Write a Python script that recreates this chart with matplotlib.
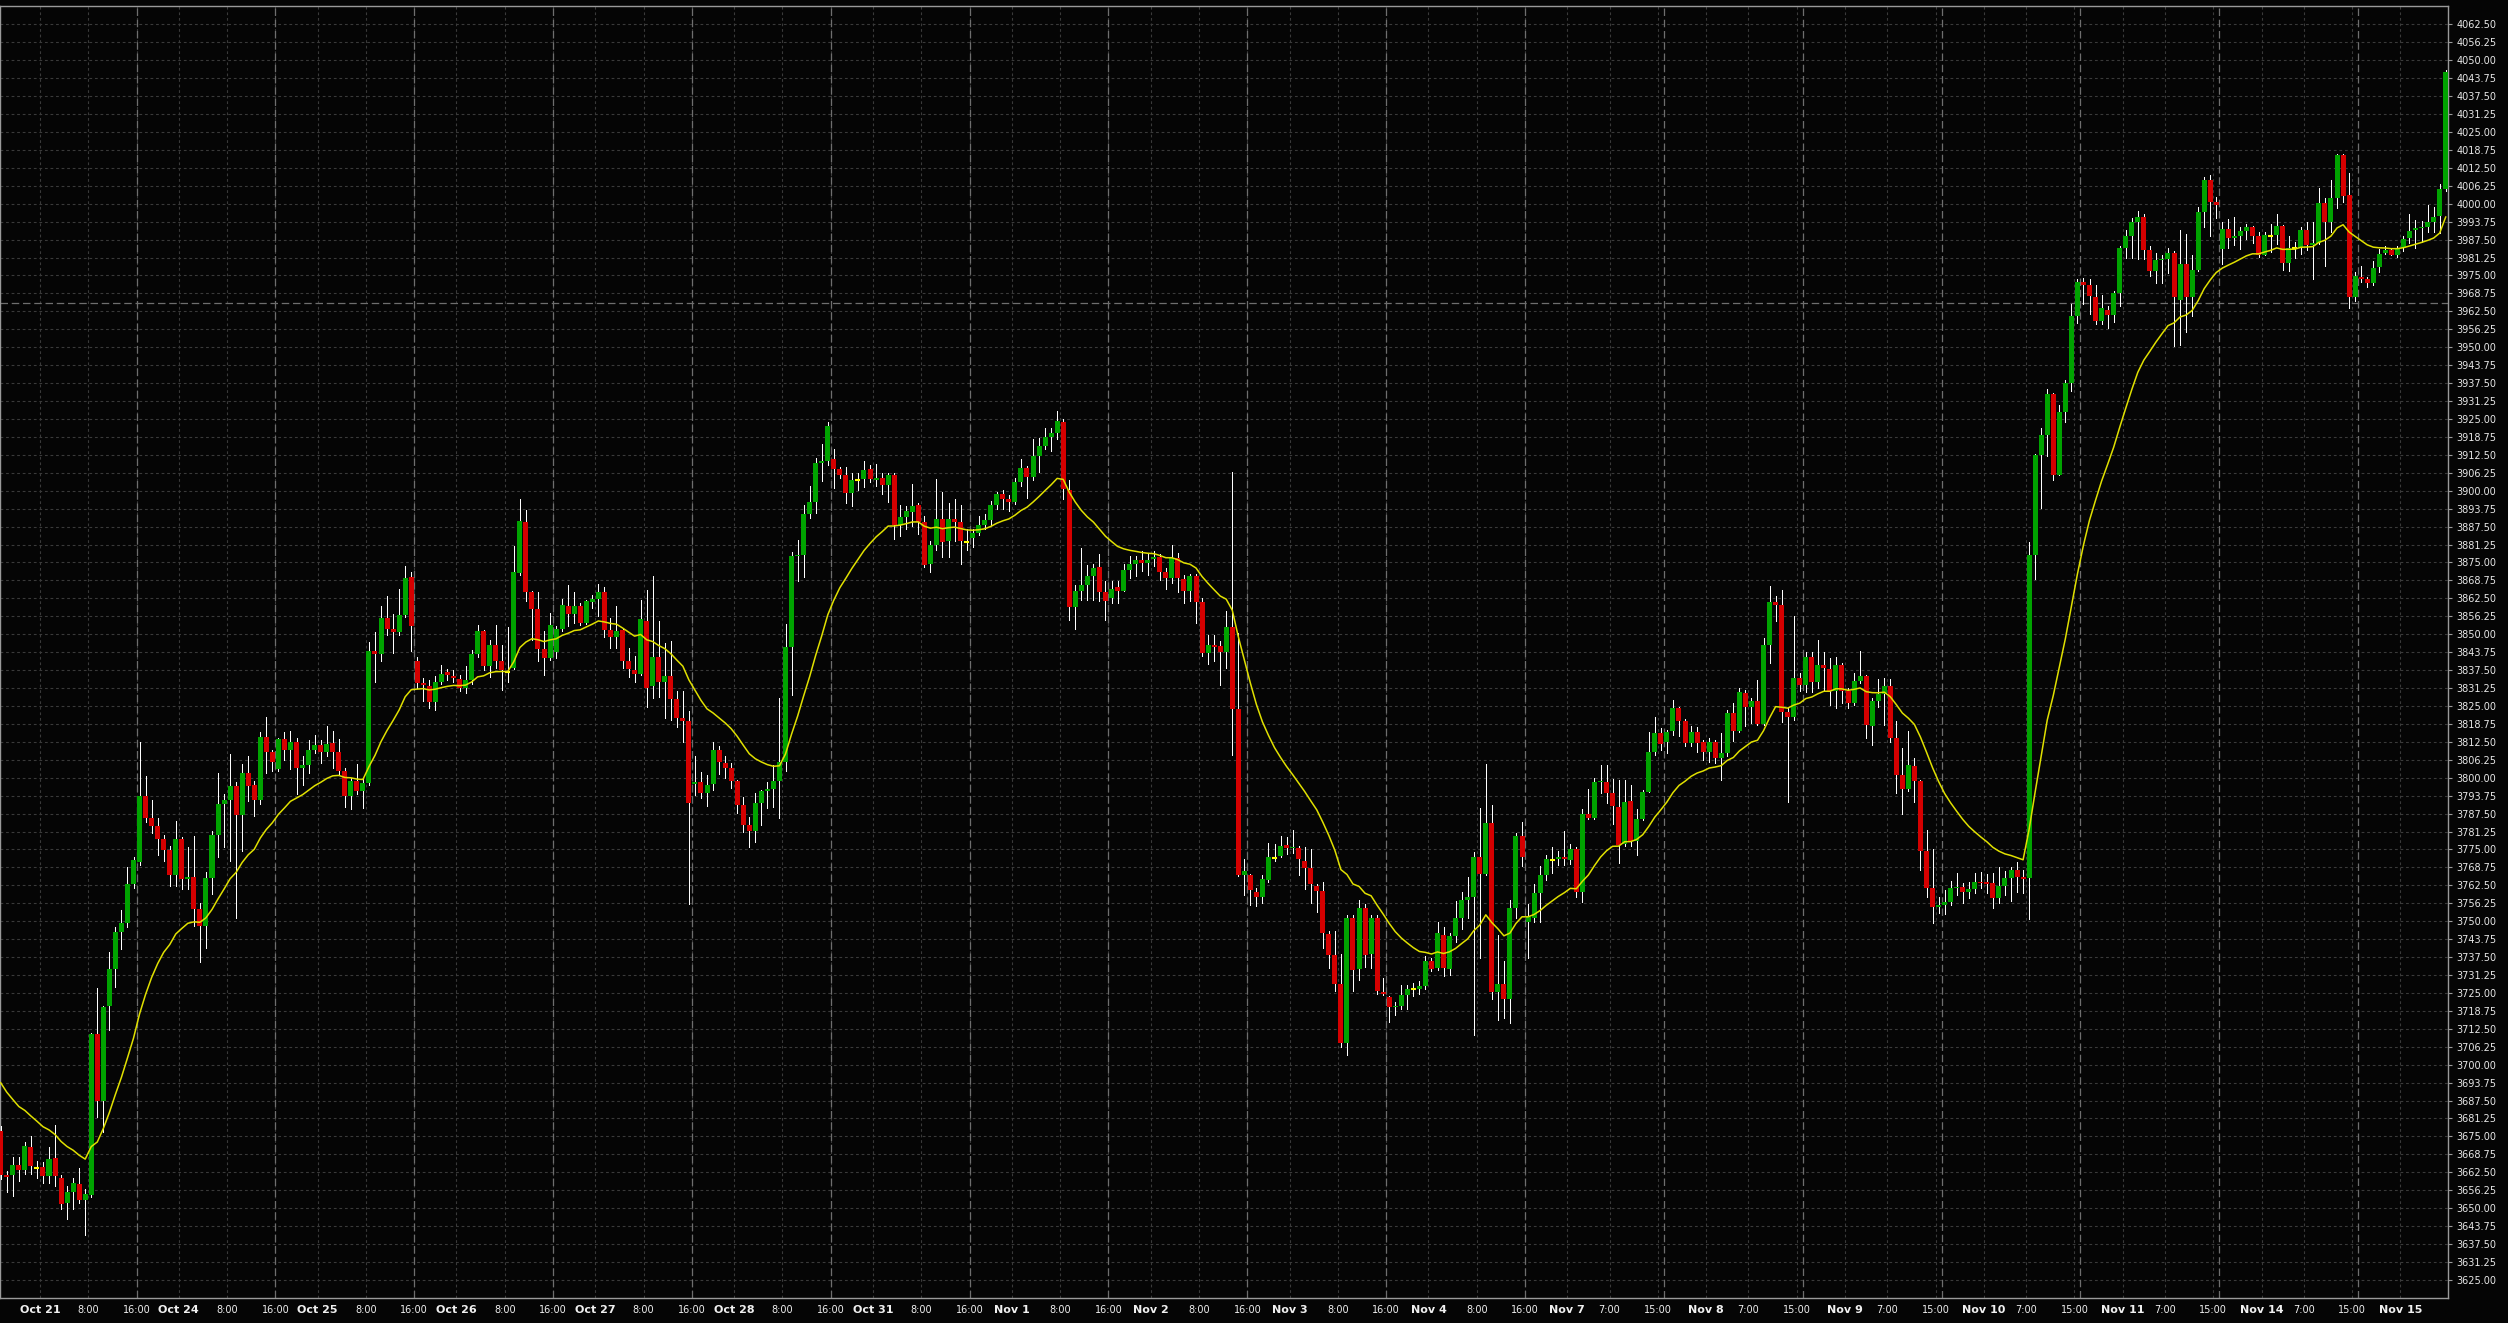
import numpy as np
import pandas as pd
import matplotlib
matplotlib.use("Agg")
import matplotlib.pyplot as plt
from matplotlib.transforms import blended_transform_factory

# hourly bars (bar 0 = Oct 20 16:00)
opens = [
    3677, 3661.5, 3661.5, 3665, 3663.3, 3671.4, 3664, 3664.4, 3661.2, 3667.5,
    3660.4, 3651.9, 3655.5, 3658.4, 3652.7, 3654.7, 3710.7, 3687.5, 3720.4, 3733.5,
    3746.4, 3749.4, 3763, 3770.5, 3793.6, 3785.9, 3783.3, 3778.6, 3774.7, 3766.1,
    3778.8, 3764.6, 3765.5, 3754.2, 3748.4, 3765.1, 3780.2, 3791, 3792.1, 3797.1,
    3787.1, 3801.5, 3797.4, 3792.3, 3814.3, 3809, 3803, 3813.5, 3809.5, 3812.6,
    3803.3, 3804.4, 3809.5, 3811.4, 3809, 3812, 3809, 3802.2, 3793.6, 3798.9,
    3795.5, 3798.1, 3844.2, 3843.1, 3855.8, 3851.7, 3850.9, 3856.6, 3869.8, 3840.5,
    3833, 3832.1, 3826.3, 3833.5, 3836.7, 3835.6, 3834.5, 3831.4, 3833.9, 3843.2,
    3851, 3838.8, 3846.1, 3840.5, 3837, 3838.2, 3871.4, 3889, 3864.6, 3858.8,
    3844.8, 3841.7, 3843.8, 3851.8, 3860, 3857.1, 3859.7, 3853.9, 3861.2, 3862.3,
    3864.6, 3851.3, 3849, 3851.3, 3840.7, 3837.7, 3836.3, 3854.7, 3831.8, 3841.9,
    3833.5, 3835.3, 3827.5, 3820.7, 3819.6, 3797.7, 3798.6, 3794.8, 3797.7, 3809.7,
    3805, 3803.5, 3798.9, 3790.5, 3783.5, 3781.4, 3791.1, 3795.4, 3796.1, 3798.9,
    3805.6, 3845.4, 3877.2, 3877.7, 3891.9, 3896.1, 3909.5, 3910.3, 3910.9, 3907.7,
    3905.4, 3899.3, 3903.8, 3904, 3907.4, 3903.8, 3904.4, 3902, 3905.6, 3888,
    3890.8, 3892.7, 3895, 3889.2, 3874.3, 3881, 3890.3, 3882.4, 3890.1, 3889,
    3882.1, 3883.6, 3885.2, 3887.9, 3889.7, 3895, 3899, 3897.1, 3896.1, 3903.1,
    3907.8, 3904.7, 3912.1, 3915.6, 3918.7, 3920.1, 3924, 3900.1, 3859.5, 3865,
    3867.1, 3870.3, 3873.3, 3864.6, 3862.6, 3866.4, 3865.2, 3872.2, 3874.6, 3876,
    3874.9, 3876.2, 3876.9, 3871.7, 3869.6, 3876.4, 3869.4, 3865, 3870.2, 3861.2,
    3843.5, 3846.1, 3845.8, 3843.8, 3852.5, 3823.8, 3766.2, 3766.2, 3760.3, 3758.6,
    3764.4, 3772, 3772.8, 3776.6, 3775.4, 3775.5, 3771.1, 3768.6, 3762.4, 3760.4,
    3745.5, 3738.2, 3728, 3707.6, 3751, 3733.5, 3754.5, 3738.6, 3751, 3725.5,
    3723.5, 3720, 3720.5, 3724.4, 3726.2, 3726.2, 3727.5, 3736.3, 3733.8, 3745.1,
    3733.5, 3744.8, 3751, 3757.5, 3758.6, 3772.4, 3766.6, 3784.2, 3725.2, 3728,
    3722.8, 3754.5, 3779.6, 3749.7, 3751, 3759.7, 3766.2, 3771.3, 3771.5, 3772.4,
    3771.3, 3775.2, 3760, 3787.3, 3786, 3798.4, 3798.6, 3794.8, 3789.7, 3776.8,
    3792, 3778, 3785.6, 3794.9, 3809.1, 3815.5, 3812.4, 3816.3, 3824.2, 3819.6,
    3812, 3815.8, 3812.3, 3808.8, 3812.6, 3807, 3808.5, 3822.4, 3816.1, 3829.5,
    3824.8, 3826.6, 3818.7, 3846.1, 3861.1, 3860.3, 3822.8, 3821.3, 3834.9, 3832.2,
    3841.9, 3833.2, 3839.1, 3837.9, 3830.1, 3839.4, 3830.3, 3826, 3833.8, 3835.6,
    3818, 3826.6, 3829.1, 3831.8, 3813.8, 3800.8, 3796.1, 3804.2, 3798.9, 3774.5,
    3761.7, 3754.8, 3755.8, 3756.8, 3761.4, 3762, 3760.1, 3761.1, 3763.8, 3763.8,
    3763.2, 3758.2, 3762.4, 3764.9, 3767.8, 3765.5, 3764.9, 3877.5, 3912.4, 3919.3,
    3933.7, 3905.6, 3927.4, 3937.5, 3961, 3972.6, 3971.6, 3967.6, 3959.2, 3963,
    3961.4, 3968.9, 3984.5, 3988.6, 3993.8, 3995.4, 3983.9, 3976.6, 3980.4, 3980.9,
    3982.8, 3966.6, 3978.9, 3967.4, 3977, 3997.2, 4008.1, 4000.7, 3984.1, 3991.3,
    3988, 3988.6, 3990.6, 3992, 3988.9, 3982.2, 3988.9, 3989.1, 3992.3, 3979.5,
    3984.5, 3984.5, 3990.7, 3985.7, 3986.3, 4000.1, 3993.8, 4001.9, 4016.9, 4003.2,
    3967.6, 3974.5, 3973.9, 3972.4, 3977.9, 3982.8, 3983.9, 3982.2, 3984.5, 3987.9,
    3990.7, 3991.6, 3992, 3993.6, 3995.7, 4005.3,
]
highs = [
    3678.5, 3662.8, 3667.7, 3668, 3673, 3675, 3666.5, 3666, 3671.4, 3678.9,
    3661.7, 3657.9, 3660.4, 3663.9, 3656.8, 3711, 3726.6, 3720.4, 3739.1, 3748.1,
    3754, 3768.9, 3772.4, 3812.6, 3800.7, 3792.3, 3785.8, 3780.2, 3776.2, 3785,
    3779.5, 3776, 3779.8, 3756.5, 3767.2, 3781.4, 3801.7, 3794.4, 3808.2, 3798.4,
    3804.9, 3807.4, 3798.9, 3816, 3821.2, 3809.8, 3813.8, 3816, 3816.3, 3813.8,
    3807.4, 3813, 3815, 3813, 3817.9, 3816.3, 3813.5, 3803.3, 3800, 3804.6,
    3800, 3847.2, 3850.7, 3859.8, 3863.4, 3856.9, 3865.8, 3873.8, 3871.6, 3841.9,
    3834.7, 3834.1, 3835.5, 3839.1, 3838, 3837.6, 3835.9, 3838.8, 3844.6, 3853.1,
    3851.6, 3848.1, 3853.3, 3846.3, 3852.4, 3880.6, 3897.2, 3893.4, 3865, 3864.6,
    3851, 3857.4, 3852.8, 3862.4, 3867.3, 3864.6, 3860.9, 3862, 3863.8, 3867.5,
    3866.3, 3855.6, 3859.7, 3852.1, 3845.2, 3842.3, 3862, 3865.5, 3870.2, 3854.5,
    3846.9, 3847.7, 3830.3, 3830.1, 3823.1, 3807.4, 3801.9, 3801, 3812.4, 3810.9,
    3807.4, 3805, 3799.2, 3793.4, 3786.4, 3794.6, 3795.7, 3798.6, 3804.5, 3827.7,
    3853.5, 3878.7, 3883, 3895, 3901.8, 3911.5, 3916.4, 3924, 3914.4, 3908.3,
    3908.2, 3906.3, 3906.3, 3910.3, 3909, 3909.2, 3906.3, 3906.3, 3906.3, 3895,
    3894.6, 3902.4, 3895.8, 3891.1, 3882.4, 3904, 3899.6, 3895.8, 3897, 3895,
    3886.5, 3886.5, 3891.1, 3892, 3896.4, 3899.6, 3900.4, 3898.5, 3904.5, 3910.9,
    3908.6, 3917.9, 3918.5, 3921.7, 3922, 3927.8, 3924.9, 3903.6, 3867.3, 3880.1,
    3874, 3874.3, 3877.8, 3868.4, 3868.4, 3868.7, 3874.3, 3877.2, 3877.2, 3879,
    3878.4, 3879, 3877.8, 3873.1, 3881, 3878.4, 3870.8, 3871, 3871, 3862.6,
    3849.8, 3849.8, 3847.8, 3858, 3906.5, 3850.4, 3771.7, 3766.5, 3761.4, 3766.2,
    3777.3, 3776.9, 3779.6, 3779.3, 3781.8, 3776.3, 3775.9, 3775.2, 3763.1, 3763.5,
    3746.6, 3746.6, 3738.6, 3752, 3752, 3757.5, 3756.1, 3752, 3752, 3730.3,
    3724.1, 3721.7, 3727.9, 3727.6, 3728.3, 3729, 3737.9, 3737.3, 3749.7, 3747.9,
    3745.8, 3757, 3760.3, 3765.5, 3774.1, 3789.3, 3804.9, 3790.4, 3745.1, 3736.3,
    3757.5, 3780.7, 3784.6, 3755.9, 3763, 3769.4, 3773.1, 3775.9, 3774.5, 3781.4,
    3776.8, 3775.9, 3789, 3795.9, 3800, 3804.4, 3804.4, 3799.7, 3799.3, 3799.3,
    3797.3, 3789, 3795.8, 3815.9, 3821.3, 3817.3, 3816.7, 3827.2, 3824.8, 3820.5,
    3817.9, 3817.5, 3813.2, 3813.8, 3813.2, 3815.5, 3823.7, 3826, 3831.2, 3830.4,
    3827.7, 3834.1, 3848.7, 3866.7, 3863.2, 3865.5, 3824.8, 3856.2, 3836.5, 3843.7,
    3843.7, 3848.1, 3843.7, 3841.7, 3841.9, 3839.9, 3831.2, 3836.5, 3844.3, 3835.9,
    3827.7, 3834.5, 3834.7, 3834.5, 3819.8, 3810.3, 3816.3, 3806.8, 3799.2, 3781.8,
    3775.2, 3758.5, 3760.9, 3764, 3766.7, 3763.2, 3763.5, 3766.7, 3767.3, 3766.3,
    3766.7, 3769, 3767.5, 3769, 3770.7, 3767.8, 3882, 3912.8, 3921.8, 3935.5,
    3934, 3930, 3938.7, 3965.2, 3973.9, 3974.1, 3973.6, 3971.6, 3968.3, 3964.5,
    3969.5, 3985.1, 3990.7, 3995.1, 3997.3, 3996.3, 3985.1, 3982.9, 3982, 3984.5,
    3983.6, 3991, 3989.5, 3982, 3999, 4009.4, 4010, 4002.5, 3993.8, 3994.8,
    3995.3, 3992, 3992.8, 3992.4, 3990.1, 3990.1, 3992.8, 3996.3, 3992.6, 3988.6,
    3986.6, 3992, 3993.8, 3993.8, 4005.6, 4001.9, 4008.1, 4017.5, 4017.5, 4010.6,
    3976.1, 3978.2, 3974.5, 3980.1, 3984.1, 3985.1, 3984.5, 3985.4, 3988.6, 3996.3,
    3994.5, 3994, 3999.4, 3998.8, 4007, 4046.5,
]
lows = [
    3660, 3655.5, 3654.3, 3659.5, 3662, 3662, 3660.4, 3658.7, 3658.7, 3657.9,
    3649.8, 3646.2, 3649.8, 3651.9, 3640.5, 3653.8, 3681.8, 3676.6, 3712, 3727,
    3740.3, 3748.1, 3761.4, 3769.7, 3784.6, 3780.6, 3773.1, 3771.1, 3762.4, 3762.4,
    3761.1, 3761.1, 3748.4, 3735.7, 3740.6, 3759.4, 3772.4, 3775.7, 3770.8, 3751,
    3774.4, 3792, 3786.6, 3790.8, 3801.7, 3802.5, 3802.5, 3806.2, 3803, 3794.4,
    3797.6, 3801.7, 3808.7, 3805, 3807.4, 3803.3, 3800.9, 3789.8, 3789, 3794.4,
    3789.5, 3797.6, 3833.4, 3840.7, 3849.6, 3843.4, 3849.6, 3856.1, 3844, 3831.2,
    3826.8, 3824.2, 3823.7, 3832.6, 3834.1, 3833.5, 3830.3, 3829.5, 3832.6, 3841.9,
    3837.6, 3835, 3838.2, 3830.6, 3833.5, 3838, 3870.8, 3861.5, 3847.9, 3840.5,
    3835.9, 3841.1, 3841.7, 3851, 3852.7, 3853.9, 3853.3, 3853.5, 3859.1, 3856.2,
    3849.2, 3845.2, 3845.2, 3838.2, 3835, 3833.5, 3835.9, 3824.5, 3827.7, 3828,
    3820.7, 3820.2, 3817.6, 3812.6, 3756, 3794, 3793.1, 3790, 3795.7, 3801.2,
    3799.8, 3796.3, 3787.6, 3781.2, 3776, 3777.7, 3783.5, 3789.3, 3789.9, 3786.1,
    3802.4, 3828.7, 3868.4, 3869.8, 3890.5, 3892.3, 3903.4, 3909, 3900.8, 3904.5,
    3895.8, 3894.6, 3900.1, 3901.3, 3903.1, 3901.6, 3898.9, 3896.1, 3883.3, 3884.2,
    3886.5, 3887.7, 3885, 3873.5, 3871.7, 3879.5, 3876.8, 3876.8, 3882.4, 3874.5,
    3879.2, 3880.3, 3884.7, 3886.5, 3888, 3893.8, 3893.8, 3892.9, 3895.4, 3901.6,
    3897.5, 3903.9, 3906.6, 3914.4, 3914, 3917.9, 3897, 3855.1, 3851.8, 3862,
    3862, 3862, 3861.7, 3855.1, 3860.9, 3860.9, 3865, 3869.6, 3870.2, 3872,
    3870.8, 3873.7, 3869, 3865.6, 3867.9, 3864.7, 3860.9, 3861.7, 3853.9, 3842.3,
    3839.6, 3840.8, 3832.4, 3838.2, 3808, 3765.8, 3759.3, 3755.6, 3755.2, 3756.2,
    3763.5, 3770.8, 3772.4, 3773.5, 3773.8, 3766.2, 3761.1, 3756.2, 3753.1, 3740.7,
    3733.8, 3725.8, 3706, 3703.2, 3725.8, 3729.4, 3734.1, 3733.8, 3724.8, 3724.4,
    3714.8, 3717.2, 3719.3, 3719.3, 3724.1, 3724.8, 3726.2, 3732.5, 3733.1, 3730.8,
    3731.3, 3742.8, 3747.3, 3751, 3710.4, 3737.3, 3766.2, 3722.8, 3715.6, 3716.1,
    3714.5, 3751, 3769.4, 3737.3, 3749.7, 3749.7, 3764.4, 3766.9, 3769.7, 3769.7,
    3769.9, 3758.6, 3756.6, 3785.5, 3785.5, 3794.5, 3791.1, 3783.7, 3770.4, 3776.3,
    3776.3, 3773.1, 3785.3, 3794.9, 3808, 3809.7, 3808.6, 3814.9, 3814.7, 3810.9,
    3810.9, 3808.9, 3806.2, 3805.4, 3805.1, 3799.2, 3807.4, 3812.9, 3815.9, 3817.9,
    3819, 3818.4, 3818.2, 3839.9, 3854.5, 3819.4, 3791.7, 3820.2, 3830.1, 3829.8,
    3829.8, 3831.2, 3830.6, 3825.4, 3824.2, 3826, 3824.2, 3825.4, 3833, 3814,
    3811.5, 3824.8, 3818.4, 3812.6, 3794.6, 3787.3, 3795.2, 3791.7, 3767.8, 3758.5,
    3749.2, 3752.7, 3752.4, 3755.6, 3759.1, 3756.2, 3758, 3759.7, 3761.4, 3759.7,
    3754.5, 3756.2, 3759.1, 3757, 3760.3, 3759.7, 3750.8, 3869.4, 3893.9, 3912.2,
    3903.9, 3905.6, 3924, 3934.6, 3958.3, 3964.9, 3961.7, 3958, 3958, 3956.7,
    3958.9, 3964.5, 3981.1, 3981.1, 3980.7, 3980.7, 3974.9, 3972.4, 3972.4, 3975.7,
    3950.5, 3950.8, 3955.2, 3960.8, 3976.6, 3991.9, 3988.6, 3995.1, 3979.1, 3984.5,
    3985.7, 3984.1, 3987.8, 3986.3, 3981.6, 3982, 3983.2, 3986.1, 3977, 3976.6,
    3981.1, 3982.6, 3983.9, 3973.9, 3986.1, 3978.2, 3990.1, 3998.6, 4000.7, 3963.7,
    3966.2, 3972.9, 3971.1, 3971.6, 3976.1, 3982.5, 3982, 3981.6, 3983.6, 3986.3,
    3984.5, 3986.6, 3990.1, 3990.1, 3989.8, 4004.3,
]
closes = [
    3661.7, 3661, 3665, 3663.3, 3671.7, 3664.7, 3664, 3661.2, 3667.2, 3661.2,
    3651.4, 3655.5, 3658.7, 3652.7, 3655, 3710.7, 3687.5, 3720.1, 3733.5, 3746.4,
    3749.4, 3763, 3771.3, 3793.6, 3785.9, 3783.3, 3778.6, 3774.7, 3766.1, 3778.8,
    3764.8, 3765.5, 3754.2, 3748.4, 3765.1, 3780.2, 3791, 3792.1, 3797.1, 3787.1,
    3801.5, 3797.1, 3792.3, 3814.3, 3809, 3805.3, 3813.5, 3809.5, 3812.6, 3803.3,
    3804.4, 3809.5, 3811.4, 3809, 3811.8, 3809, 3802.2, 3793.6, 3798.9, 3795.5,
    3798.1, 3844.2, 3843.1, 3855.8, 3851.7, 3850.9, 3856.6, 3869.6, 3852.7, 3833,
    3832.4, 3826.3, 3833.5, 3836.2, 3835.9, 3834.9, 3831.4, 3833.9, 3843.2, 3851.2,
    3838.8, 3846.1, 3840.5, 3837.4, 3837, 3871.6, 3889.4, 3864.6, 3858.8, 3844.8,
    3841.7, 3853.3, 3851.8, 3860.3, 3857.1, 3859.7, 3853.9, 3861.5, 3862.3, 3864.6,
    3851.3, 3849, 3851, 3840.5, 3838, 3836.3, 3855.3, 3831.4, 3841.9, 3833.5,
    3835.3, 3827.5, 3820.7, 3819.6, 3791.1, 3798.6, 3794.8, 3797.3, 3809.7, 3805.3,
    3803.5, 3798.9, 3790.5, 3783.5, 3781.4, 3791.1, 3795.4, 3796.1, 3798.9, 3805.6,
    3845.4, 3877.2, 3877.7, 3891.9, 3896.1, 3909.5, 3910.5, 3922.5, 3907.7, 3905.4,
    3899.3, 3903.9, 3903.8, 3907.1, 3904, 3904.4, 3902, 3905.4, 3888, 3890.8,
    3892.9, 3894.6, 3889.2, 3874, 3881, 3890.3, 3882.1, 3890.3, 3889, 3882.4,
    3882.1, 3885.2, 3887.9, 3889.7, 3895, 3898.7, 3897.1, 3896.1, 3903.1, 3907.8,
    3904.7, 3912.1, 3915.6, 3918.7, 3920.1, 3924.3, 3900.7, 3859.5, 3865, 3867.1,
    3870.3, 3873, 3864.6, 3861.7, 3865.9, 3865.2, 3872.2, 3874.5, 3875.7, 3874.9,
    3875.7, 3876.9, 3871.7, 3869.6, 3876.6, 3869.6, 3865, 3870.2, 3861.2, 3843.5,
    3846.1, 3845.4, 3843.8, 3852.4, 3823.8, 3766.2, 3767.6, 3760.7, 3758.6, 3764.8,
    3772.4, 3772, 3776.3, 3775.5, 3775.8, 3771.5, 3768.6, 3762.8, 3760.4, 3745.9,
    3738.2, 3728, 3707.6, 3751, 3733.1, 3754.5, 3738.2, 3751, 3725.8, 3724.8,
    3720, 3720.5, 3724.4, 3726.5, 3726.2, 3727.5, 3736.3, 3733.5, 3745.8, 3733.8,
    3744.8, 3751, 3757.5, 3758.4, 3772.2, 3766.6, 3784.2, 3725.2, 3728, 3722.8,
    3754.5, 3779.6, 3772.2, 3751.4, 3759.7, 3766.2, 3771.5, 3771.3, 3772.4, 3771.6,
    3775.2, 3760, 3787.3, 3786, 3798.6, 3799, 3794.5, 3790.1, 3776.6, 3791.7,
    3778, 3785.5, 3794.9, 3809.1, 3815.5, 3811.7, 3815.8, 3824.2, 3819.8, 3812,
    3815.8, 3812, 3808.8, 3812.6, 3807, 3808.5, 3822.4, 3816.1, 3829.7, 3824.8,
    3826.6, 3818.7, 3846.1, 3861.1, 3860.1, 3822.8, 3821.3, 3834.7, 3832.2, 3841.9,
    3833.2, 3839.1, 3838.2, 3830.1, 3839.1, 3830.3, 3826, 3833.8, 3835.6, 3818.4,
    3826.6, 3829.1, 3831.8, 3813.8, 3800.8, 3796.1, 3804.5, 3798.9, 3774.5, 3761.7,
    3754.8, 3755.6, 3756.8, 3761.7, 3762, 3760.1, 3761.1, 3763.8, 3763.2, 3762.8,
    3758.2, 3762.4, 3764.9, 3767.8, 3765.5, 3764.7, 3877.5, 3912.4, 3919.3, 3933.7,
    3905.6, 3927.4, 3937.5, 3961, 3972.6, 3971.6, 3967.9, 3959.2, 3963.5, 3961.4,
    3968.9, 3984.5, 3988.6, 3993.8, 3995.4, 3983.9, 3976.4, 3980.4, 3980.9, 3982.8,
    3967.4, 3978.9, 3967.4, 3977, 3997.2, 4008.1, 4000.7, 3999.4, 3991.3, 3988.1,
    3988.6, 3990.6, 3992, 3988.9, 3982.2, 3989.1, 3988.9, 3992.3, 3979.5, 3984.5,
    3984.5, 3990.7, 3985.7, 3986.3, 4000.1, 3993.8, 4001.9, 4016.9, 4002.8, 3967.4,
    3974.9, 3973.9, 3972.4, 3977.6, 3982.6, 3983.9, 3982.2, 3984.5, 3987.6, 3990.6,
    3991.6, 3992, 3993.6, 3995.4, 4005.3, 4045.8,
]
ma_start = 3693.7      # moving average value at the first visible bar
ma_alpha = 0.1
marker_price = 3965.5  # dashed horizontal line

day_labels = ["Oct 21", "Oct 24", "Oct 25", "Oct 26", "Oct 27", "Oct 28", "Oct 31",
              "Nov 1", "Nov 2", "Nov 3", "Nov 4", "Nov 7", "Nov 8", "Nov 9",
              "Nov 10", "Nov 11", "Nov 14", "Nov 15"]
bars_per_day = 23

bg = "#050505"
green = "#00a300"
red = "#d50000"

o = np.array(opens, float)
h = np.array(highs, float)
l = np.array(lows, float)
c = np.array(closes, float)
x = np.arange(len(c))

fig = plt.figure(figsize=(25.08, 13.23), dpi=100)
fig.patch.set_facecolor(bg)
ax = fig.add_axes([0.0, 25 / 1323, 2448 / 2508, 1292 / 1323])
ax.set_facecolor(bg)

px0, step = 0.7, 6.037
ax.set_xlim((0 - px0) / step, (2448 - px0) / step)
ax.set_ylim(3618.7, 4068.9)

# grid
prices = np.arange(3625, 4062.51, 6.25)
for p in prices:
    ax.axhline(p, color="#3a3a3a", lw=0.8, ls=(0, (2.5, 2.5)), zorder=1)

tick_pos, tick_lab, tick_bold = [], [], []
for d, name in enumerate(day_labels):
    start = 6.5 + bars_per_day * d
    if d < 11:
        extra = [(start + 8, "8:00"), (start + 16, "16:00")]
    else:
        extra = [(start + 7, "7:00"), (start + 15, "15:00")]
    tick_pos.append(start); tick_lab.append(name); tick_bold.append(True)
    for pos, lab in extra:
        if pos < len(c) - 3:
            tick_pos.append(pos); tick_lab.append(lab); tick_bold.append(False)

for pos in tick_pos:
    ax.axvline(pos, color="#3a3a3a", lw=0.8, ls=(0, (2.5, 2.5)), zorder=1)
for k in range(17):
    ax.axvline(22.5 + bars_per_day * k, color="#6e6e6e", lw=0.9,
               ls=(0, (6, 3)), zorder=1.5)
ax.axhline(marker_price, color="#6e6e6e", lw=0.9, ls=(0, (6, 3)), zorder=1.5)

# candles
up = c > o
dn = c < o
dj = c == o
ax.vlines(x, l, h, color="white", lw=0.72, antialiased=False, zorder=3)
body_lo = np.minimum(o, c)
body_h = np.maximum(np.abs(c - o), 0.4)
ax.bar(x[up], body_h[up], bottom=body_lo[up], width=0.83, color=green,
       linewidth=0, antialiased=False, zorder=4)
ax.bar(x[dn], body_h[dn], bottom=body_lo[dn], width=0.83, color=red,
       linewidth=0, antialiased=False, zorder=4)
ax.hlines(c[dj], x[dj] - 0.42, x[dj] + 0.42, color="#ffff00", lw=1.5, zorder=4)

# moving average (exponential)
ma = pd.Series(np.r_[ma_start, c[1:]]).ewm(alpha=ma_alpha, adjust=False).mean()
ax.plot(x, ma, color="#e0e000", lw=1.1, zorder=5)

# axes
for s in ax.spines.values():
    s.set_color("#9a9a9a")
    s.set_linewidth(1.0)
ax.yaxis.tick_right()
ax.set_yticks(prices)
ax.set_yticklabels([f"{p:.2f}" for p in prices])
ax.tick_params(axis="y", colors="#9a9a9a", labelcolor="#e8e8e8", length=3,
               width=0.8, pad=3, labelsize=7)
ax.set_xticks([])

trans = blended_transform_factory(ax.transData, ax.transAxes)
for pos, lab, bold in zip(tick_pos, tick_lab, tick_bold):
    ax.text(pos, -0.0095, lab, transform=trans, ha="center", va="center",
            color="#f0f0f0", fontsize=8 if bold else 7,
            fontweight="bold" if bold else "normal")

fig.savefig("out.png", dpi=100, facecolor=bg)
